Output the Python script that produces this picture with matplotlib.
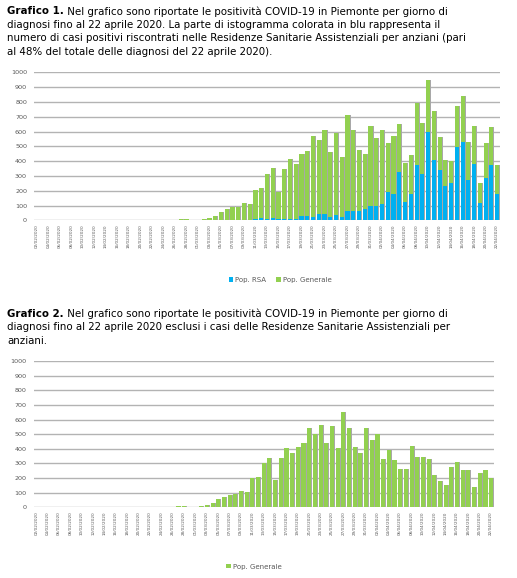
import matplotlib.pyplot as plt
import numpy as np
import pandas as pd

# giorni di diagnosi dal 02/02/2020 al 22/04/2020
giorni = pd.date_range('2020-02-02', '2020-04-22').strftime('%d/%m/%Y').tolist()

# casi positivi nelle RSA (blu)
pop_rsa = [0] * 36 + [
    2, 4, 6, 14, 9, 16, 7, 9, 7, 9, 32, 29, 25, 43, 43, 25, 36,
    23, 65, 65, 63, 77, 95, 97, 110, 191, 178, 327, 126, 178, 376, 315, 599,
    408, 340, 232, 252, 498, 529, 273, 383, 115, 288, 372, 178]

# casi positivi popolazione generale (verde)
pop_generale = [0] * 25 + [
    8, 11, 1, 1, 8, 16, 32, 56, 73, 87, 90, 114, 103, 202,
    205, 305, 336, 186, 336, 404, 370, 413, 437, 543, 499, 564, 438, 553,
    403, 648, 542, 411, 369, 543, 462, 502, 333, 394, 323, 259, 262, 419, 345,
    346, 332, 220, 178, 152, 276, 311, 257, 256, 140, 237, 256, 198]

BLU = '#00b0f0'
VERDE = '#92d050'
OMBRA = '#a8a8a8'
GRIGIO_TESTO = '#595959'
FS = 7.4

W, H = 517, 578
fig = plt.figure(figsize=(W / 100, H / 100), dpi=100)


def didascalia(y, titolo, righe):
    # titolo in grassetto, poi il resto della prima riga accanto
    t = fig.text(7 / W, 1 - y / H, titolo, fontsize=FS, fontweight='bold',
                 va='center', ha='left')
    fig.add_artist(plt.Annotation(' ' + righe[0], xy=(1, 0.5), xycoords=t,
                                  va='center', ha='left', fontsize=FS))
    for i, r in enumerate(righe[1:], start=1):
        fig.text(7 / W, 1 - (y + i * 13.4) / H, r, fontsize=FS,
                 va='center', ha='left')


def grafico(rect, serie):
    ax = fig.add_axes(rect)
    x = np.arange(len(giorni))
    # ombra grigia dietro le barre
    base = np.zeros(len(giorni))
    for valori, colore in serie:
        valori = np.array(valori)
        ax.bar(x + 0.16, valori, 0.72, bottom=base, color=OMBRA, zorder=2)
        base = base + valori
    base = np.zeros(len(giorni))
    barre = []
    for valori, colore in serie:
        valori = np.array(valori)
        barre.append(ax.bar(x, valori, 0.72, bottom=base, color=colore, zorder=3))
        base = base + valori
    ax.set_xlim(-0.5, len(giorni) - 0.5)
    ax.set_ylim(0, 1000)
    ax.set_yticks(range(0, 1001, 100))
    ax.yaxis.grid(True, color='#b3b3b3', linewidth=1.0, zorder=0)
    ax.set_axisbelow(True)
    ax.set_xticks(x[::2])
    ax.set_xticklabels(giorni[::2], rotation=90, fontsize=3.0, color=GRIGIO_TESTO)
    ax.tick_params(axis='y', labelsize=4.6, labelcolor=GRIGIO_TESTO, length=0, pad=5)
    ax.tick_params(axis='x', length=0, pad=3)
    for s in ax.spines.values():
        s.set_visible(False)
    return ax, barre


didascalia(11.5, 'Grafico 1.', [
    'Nel grafico sono riportate le positività COVID-19 in Piemonte per giorno di',
    'diagnosi fino al 22 aprile 2020. La parte di istogramma colorata in blu rappresenta il',
    'numero di casi positivi riscontrati nelle Residenze Sanitarie Assistenziali per anziani (pari',
    'al 48% del totale delle diagnosi del 22 aprile 2020).'])

ax1, b1 = grafico([34 / W, 1 - 220.3 / H, 466 / W, 148 / H],
                  [(pop_rsa, BLU), (pop_generale, VERDE)])
fig.legend([b1[0], b1[1]], ['Pop. RSA', 'Pop. Generale'], loc='center',
           bbox_to_anchor=(280 / W, 1 - 280 / H), ncol=2, frameon=False,
           fontsize=5, handlelength=0.6, handleheight=0.6, handletextpad=0.3,
           columnspacing=1.5, labelcolor=GRIGIO_TESTO)

didascalia(314, 'Grafico 2.', [
    'Nel grafico sono riportate le positività COVID-19 in Piemonte per giorno di',
    'diagnosi fino al 22 aprile 2020 esclusi i casi delle Residenze Sanitarie Assistenziali per',
    'anziani.'])

ax2, b2 = grafico([33.5 / W, 1 - 507.3 / H, 460.5 / W, 146.3 / H],
                  [(pop_generale, VERDE)])
fig.legend([b2[0]], ['Pop. Generale'], loc='center',
           bbox_to_anchor=(254 / W, 1 - 566.5 / H), frameon=False,
           fontsize=5, handlelength=0.6, handleheight=0.6, handletextpad=0.3,
           labelcolor=GRIGIO_TESTO)

fig.savefig('out.png', dpi=100)
